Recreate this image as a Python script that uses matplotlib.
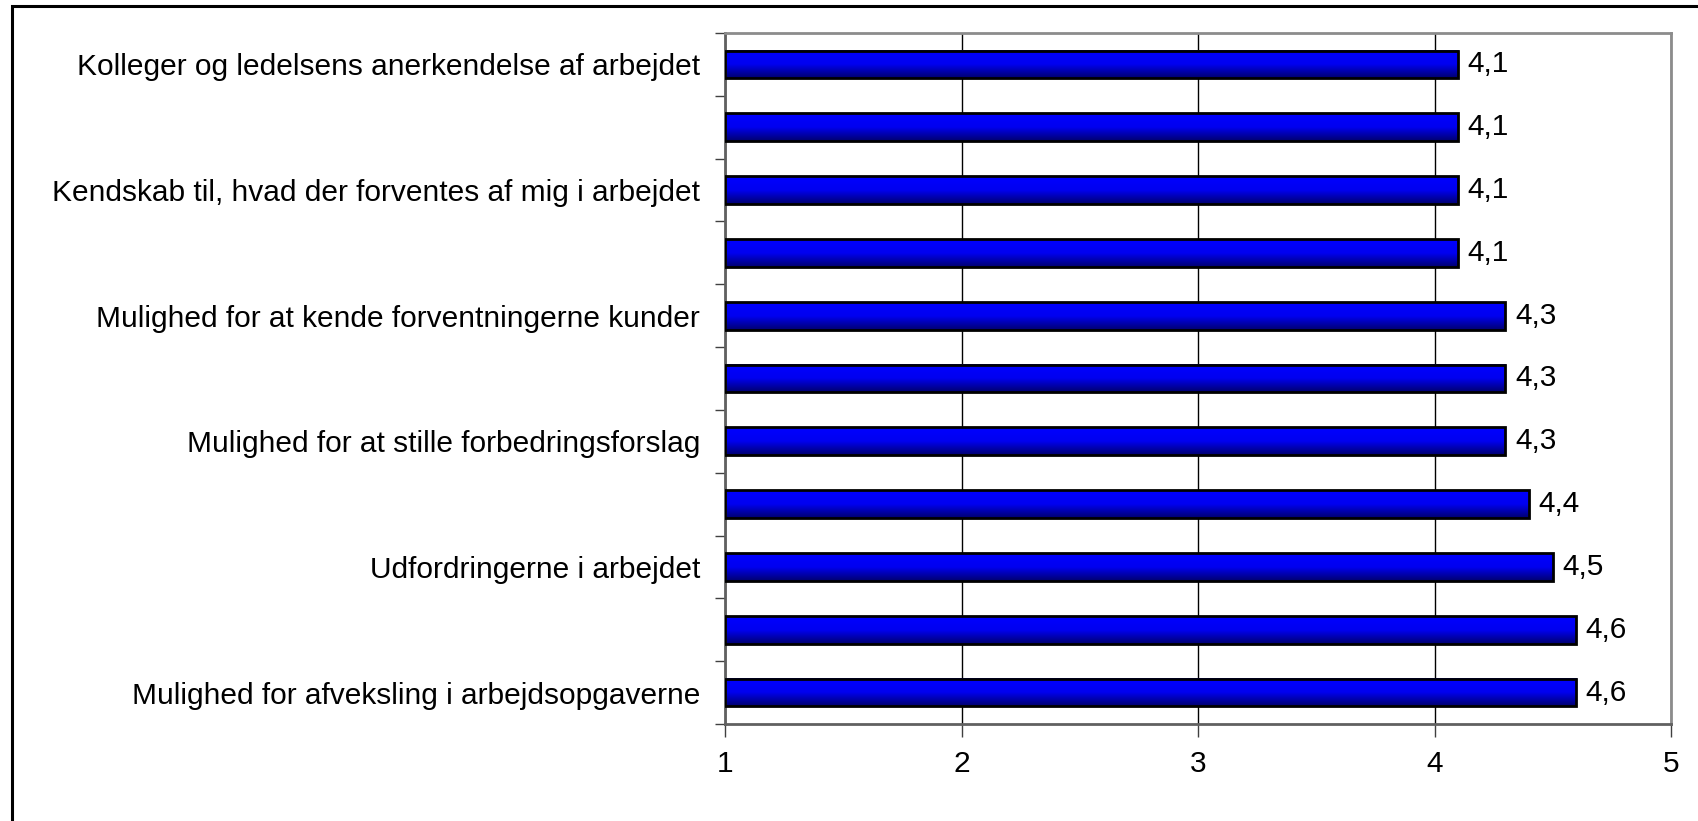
import numpy as np
import matplotlib.pyplot as plt
from matplotlib.patches import Rectangle
from matplotlib.colors import LinearSegmentedColormap

# data, top to bottom as in the chart (only every second label is shown)
labels = [
    'Kolleger og ledelsens anerkendelse af arbejdet',
    '',
    'Kendskab til, hvad der forventes af mig i arbejdet',
    '',
    'Mulighed for at kende forventningerne kunder',
    '',
    'Mulighed for at stille forbedringsforslag',
    '',
    'Udfordringerne i arbejdet',
    '',
    'Mulighed for afveksling i arbejdsopgaverne',
]
values = [4.1, 4.1, 4.1, 4.1, 4.3, 4.3, 4.3, 4.4, 4.5, 4.6, 4.6]
xticks = [1, 2, 3, 4, 5]

plt.rcParams['font.family'] = ['Liberation Sans', 'DejaVu Sans']
fs = 21.5

fig = plt.figure(figsize=(16.99, 8.21), dpi=100)
ax = fig.add_axes([725 / 1699, 1 - 724 / 821, 946 / 1699, 691 / 821])

ypos = np.arange(len(values))
bars = ax.barh(ypos, [v - 1 for v in values], left=1, height=0.44,
               facecolor='none', edgecolor='black', linewidth=2, zorder=3)

# vertical gradient inside each bar
cmap = LinearSegmentedColormap.from_list('blu', ['#0000ff', '#0000f0', '#000070'])
grad = np.linspace(0, 1, 100).reshape(-1, 1)
for b in bars:
    x0, y0 = b.get_x(), b.get_y()
    w, h = b.get_width(), b.get_height()
    ax.imshow(grad, cmap=cmap, aspect='auto', extent=(x0, x0 + w, y0 + h, y0),
              zorder=2, interpolation='bilinear')

for y, v in zip(ypos, values):
    ax.text(v + 0.04, y, ('%.1f' % v).replace('.', ','), va='center', ha='left',
            fontsize=fs, color='black', zorder=4)

ax.set_xlim(1, 5)
ax.set_ylim(len(values) - 0.5, -0.5)
ax.set_xticks(xticks)
ax.set_xticklabels([str(t) for t in xticks], fontsize=fs)
ax.set_yticks(ypos)
ax.set_yticklabels(labels, fontsize=fs)
ax.set_yticks(np.arange(-0.5, len(values)), minor=True)
ax.tick_params(axis='y', which='major', length=0, pad=18)
ax.tick_params(axis='y', which='minor', length=7, width=1, color='#404040')
ax.tick_params(axis='x', length=9, width=1, color='#404040', pad=10)

ax.grid(axis='x', color='black', linewidth=1, zorder=1)
ax.set_axisbelow(True)
for side in ['top', 'right']:
    ax.spines[side].set_color('#8c8c8c')
    ax.spines[side].set_linewidth(2)
for side in ['left', 'bottom']:
    ax.spines[side].set_color('#606060')
    ax.spines[side].set_linewidth(2)

# outer chart frame (right and bottom edges fall outside the image)
fig.patches.append(Rectangle((12 / 1699, -0.05), 1.1, 1 - 6 / 821 + 0.05,
                             transform=fig.transFigure, fill=False,
                             edgecolor='black', linewidth=2.2))

fig.savefig('out.png', dpi=100)
